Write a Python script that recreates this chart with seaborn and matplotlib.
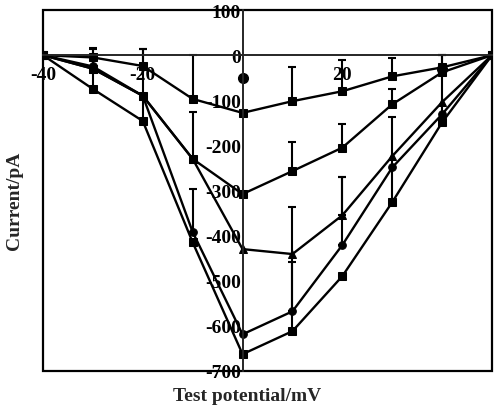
import numpy as np
import pandas as pd
import matplotlib.pyplot as plt
import seaborn as sns
from matplotlib.patches import Rectangle

# test potentials (mV)
potential = [-40, -30, -20, -10, 0, 10, 20, 30, 40, 50]

# mean currents (pA) for the five recordings
series_a = [0, -5, -24, -97, -128, -102, -80, -47, -27, 0]
series_b = [0, -30, -90, -230, -308, -257, -205, -109, -38, 0]
series_c = [0, -30, -90, -230, -430, -441, -355, -224, -104, 0]
series_d = [0, -25, -90, -392, -619, -568, -421, -249, -131, 0]
series_e = [0, -75, -146, -415, -663, -612, -490, -326, -149, 0]

# upward error bars (pA), 0 = no bar drawn
err_a = [0, 20, 37, 97, 0, 75, 69, 40, 27, 0]
err_b = [0, 0, 0, 104, 0, 64, 52, 34, 0, 0]
err_c = [0, 0, 0, 0, 0, 0, 85, 0, 0, 0]
err_d = [0, 0, 0, 95, 0, 110, 150, 0, 0, 0]
err_e = [0, 88, 159, 0, 0, 275, 0, 189, 149, 0]

# stray blobs on the trace
extra_x = [0, 40]
extra_y = [-50, -30]

names = ['A', 'B', 'C', 'D', 'E']
values = [series_a, series_b, series_c, series_d, series_e]
errors = [err_a, err_b, err_c, err_d, err_e]
markers = {'A': 's', 'B': 's', 'C': '^', 'D': 'o', 'E': 's'}

df = pd.concat([pd.DataFrame({'mV': potential, 'pA': v, 'series': n})
                for n, v in zip(names, values)], ignore_index=True)

sns.set_style('white')
plt.rcParams['font.family'] = ['Liberation Serif', 'DejaVu Serif']
plt.rcParams['font.weight'] = 'bold'
plt.rcParams['axes.unicode_minus'] = False

fig = plt.figure(figsize=(4.94, 4.10), dpi=100)
ax = fig.add_axes([0.087, 0.093, 0.909, 0.880])

sns.lineplot(data=df, x='mV', y='pA', hue='series', style='series',
             markers=markers, dashes=False, palette=['black'] * 5,
             markersize=5.5, markeredgecolor='black', linewidth=1.7,
             legend=False, ax=ax)

for v, e in zip(values, errors):
    x = np.array(potential)
    y = np.array(v)
    e = np.array(e)
    m = e > 0
    ax.errorbar(x[m], y[m], yerr=[np.zeros(m.sum()), e[m]], fmt='none',
                ecolor='black', elinewidth=1.5, capsize=3, capthick=1.5)

ax.plot(extra_x, extra_y, 'o', color='black', markersize=7)

ax.set_xlim(-40, 50)
ax.set_ylim(-700, 100)

# axes through the origin
for s in ['top', 'right']:
    ax.spines[s].set_visible(False)
ax.spines['left'].set_position(('data', 0))
ax.spines['bottom'].set_position(('data', 0))
ax.spines['left'].set_linewidth(1.4)
ax.spines['bottom'].set_linewidth(1.4)
ax.add_patch(Rectangle((0, 0), 1, 1, transform=ax.transAxes, fill=False,
                       lw=1.6, ec='black', clip_on=False))

xt = list(range(-40, 50, 10))
ax.set_xticks(xt)
ax.set_xticklabels(['-40', '', '-20', '', '', '', '20', '', ''])
yt = list(range(-700, 101, 100))
ax.set_yticks(yt)
ax.set_yticklabels([str(t) for t in yt])
ax.tick_params(axis='both', direction='in', length=4, width=1.2,
               labelsize=14, colors='black')
ax.tick_params(axis='x', pad=8)
ax.tick_params(axis='y', pad=1)

ax.set_xlabel('Test potential/mV', fontsize=14, fontweight='bold')
ax.set_ylabel('Current/pA', fontsize=14, fontweight='bold')
ax.xaxis.set_label_coords(0.454, -0.045)
ax.yaxis.set_label_coords(-0.045, 0.474)

fig.savefig('out.png', dpi=100)
